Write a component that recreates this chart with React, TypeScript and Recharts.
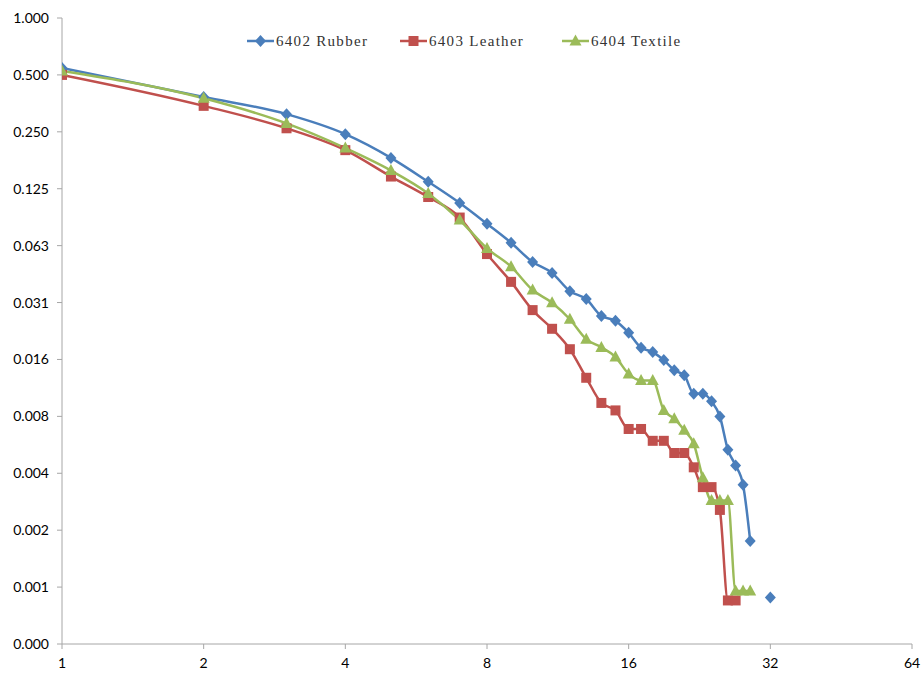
import React from 'react';
import { LineChart, Line, XAxis, YAxis } from 'recharts';

const ranks = [1, 2, 3, 4, 5, 6, 7, 8, 9, 10, 11, 12, 13, 14, 15, 16, 17, 18, 19, 20, 21, 22, 23, 24, 25, 26, 27, 28, 29, 30, 31, 32];

const rubber = [0.544, 0.382, 0.31, 0.243, 0.182, 0.136, 0.105, 0.0815, 0.0647, 0.0512, 0.0448, 0.0359, 0.0326, 0.0265, 0.025, 0.0216, 0.018, 0.0171, 0.0155, 0.0137, 0.0129, 0.0103, 0.0103, 0.0094, 0.0078, 0.0052, 0.0043, 0.0034, 0.00171, null, null, 0.00086];

const leather = [0.5, 0.343, 0.261, 0.2, 0.145, 0.113, 0.088, 0.0564, 0.0402, 0.0285, 0.0227, 0.0177, 0.0125, 0.0092, 0.0084, 0.0067, 0.0067, 0.0058, 0.0058, 0.005, 0.005, 0.0042, 0.0033, 0.0033, 0.0025, 0.00083, 0.00083];

const textile = [0.524, 0.376, 0.277, 0.205, 0.156, 0.118, 0.0854, 0.0604, 0.0484, 0.0364, 0.0312, 0.0255, 0.02, 0.0181, 0.0161, 0.0131, 0.0121, 0.0121, 0.0084, 0.0076, 0.0066, 0.0056, 0.0037, 0.0028, 0.0028, 0.0028, 0.00093, 0.00093, 0.00093];

const xTicks = [1, 2, 4, 8, 16, 32, 64];
const yTicks = [1 / 2048, 1 / 1024, 1 / 512, 1 / 256, 1 / 128, 1 / 64, 1 / 32, 1 / 16, 1 / 8, 1 / 4, 1 / 2, 1];
const yTickLabels = ['0.000', '0.001', '0.002', '0.004', '0.008', '0.016', '0.031', '0.063', '0.125', '0.250', '0.500', '1.000'];

const BLUE = '#4A7EBB';
const RED = '#C0504D';
const GREEN = '#9BBB59';

const data = ranks.map((rank, i) => ({
  rank,
  rubber: rubber[i] ?? null,
  leather: leather[i] ?? null,
  textile: textile[i] ?? null,
}));

const marker = (kind: string, cx: number, cy: number, color: string) => {
  if (kind === 'diamond') {
    return <path d={`M${cx},${cy - 6}L${cx + 5.5},${cy}L${cx},${cy + 6}L${cx - 5.5},${cy}Z`} fill={color} />;
  }
  if (kind === 'square') {
    return <rect x={cx - 5} y={cy - 5} width={10} height={10} fill={color} />;
  }
  return <path d={`M${cx},${cy - 6.5}L${cx + 6},${cy + 4.5}L${cx - 6},${cy + 4.5}Z`} fill={color} />;
};

const makeDot = (kind: string, color: string) => (props: any) => {
  const { cx, cy, value, index } = props;
  if (value == null || cx == null || cy == null) return <g key={`${kind}-${index}`} />;
  return <g key={`${kind}-${index}`}>{marker(kind, cx, cy, color)}</g>;
};

const series = [
  { key: 'rubber', name: '6402 Rubber', color: BLUE, kind: 'diamond', left: 247 },
  { key: 'leather', name: '6403 Leather', color: RED, kind: 'square', left: 400 },
  { key: 'textile', name: '6404 Textile', color: GREEN, kind: 'triangle', left: 562 },
];

const axisTick = { fill: '#000', fontSize: 14, fontFamily: 'Lato, Carlito, sans-serif' };

export default function App() {
  return (
    <div style={{ position: 'absolute', left: 0, top: 0, width: 923, height: 673, background: '#fff' }}>
      <LineChart width={923} height={673} data={data} margin={{ top: 18, right: 11, bottom: 0, left: 0 }}>
        <XAxis
          dataKey="rank"
          type="number"
          scale="log"
          domain={[1, 64]}
          ticks={xTicks}
          allowDataOverflow
          height={29}
          stroke="#a6a6a6"
          tickSize={5}
          tickMargin={9}
          tick={axisTick}
          interval={0}
        />
        <YAxis
          type="number"
          scale="log"
          domain={[yTicks[0], 1]}
          ticks={yTicks}
          allowDataOverflow
          width={62}
          stroke="#a6a6a6"
          tickSize={5}
          tickMargin={8}
          tick={axisTick}
          interval={0}
          tickFormatter={(v: number, i: number) => yTickLabels[i]}
        />
        {series.map((s) => (
          <Line
            key={s.key}
            dataKey={s.key}
            name={s.name}
            type="monotone"
            stroke={s.color}
            strokeWidth={2.5}
            dot={makeDot(s.kind, s.color)}
            activeDot={false}
            connectNulls={false}
            isAnimationActive={false}
          />
        ))}
      </LineChart>
      {series.map((s) => (
        <div
          key={s.key}
          style={{ position: 'absolute', left: s.left, top: 32, height: 18, display: 'flex', alignItems: 'center' }}
        >
          <svg width={27} height={18}>
            <line x1={0} y1={9} x2={27} y2={9} stroke={s.color} strokeWidth={2.5} />
            {marker(s.kind, 13.5, 9, s.color)}
          </svg>
          <span
            style={{
              fontFamily: '"Liberation Serif", "DejaVu Serif", serif',
              fontSize: 15,
              letterSpacing: 1.3,
              color: '#333',
              marginLeft: 2,
              whiteSpace: 'nowrap',
            }}
          >
            {s.name}
          </span>
        </div>
      ))}
    </div>
  );
}
